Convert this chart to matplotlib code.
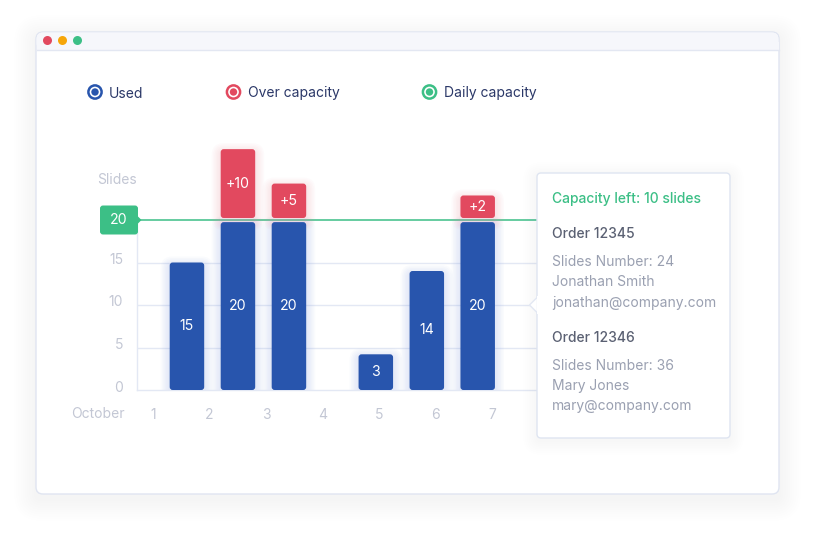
import numpy as np
import matplotlib
matplotlib.use("Agg")
import matplotlib.pyplot as plt
from matplotlib.patches import FancyBboxPatch, Circle, Polygon
import matplotlib.transforms as mtransforms

plt.rcParams['font.family'] = ['Inter', 'DejaVu Sans']

# ---------------- data ----------------
day_ticks = [1, 2, 3, 4, 5, 6, 7]
day_labels = ["1", "2", "3", "4", "5", "6", "7"]
bar_positions = [1.605, 2.506, 3.407, 4.942, 5.843, 6.742]
used = [15, 20, 20, 3, 14, 20]
over = [0, 10, 5, 0, 0, 2]
daily_capacity = 20
y_ticks = [0, 5, 10, 15]
y_tick_labels = ["0", "5", "10", "15"]
legend_labels = ["Used", "Over capacity", "Daily capacity"]
tooltip_title = "Capacity left: 10 slides"
order_titles = ["Order 12345", "Order 12346"]
order_lines = [["Slides Number: 24", "Jonathan Smith", "jonathan@company.com"],
               ["Slides Number: 36", "Mary Jones", "mary@company.com"]]

# ---------------- style ----------------
BLUE = "#2855ad"
RED = "#e2495f"
GREEN = "#3cbf86"
ORANGE = "#f6a609"
GRID = "#e3e8f4"
TICK = "#c3c7d4"
NAVY = "#2b3868"

W, H = 814, 534
fig = plt.figure(figsize=(W / 100, H / 100), dpi=100)
fig.patch.set_facecolor("white")

# background overlay (pixel coords)
bg = fig.add_axes([0, 0, 1, 1], zorder=0)
bg.set_xlim(0, W); bg.set_ylim(H, 0); bg.axis("off")

# window shadow (very soft)
for i in range(10):
    s = 2 + i * 2.2
    bg.add_patch(FancyBboxPatch((36 - s, 32 - s + 5), 743 + 2 * s, 462 + 2 * s,
                                boxstyle=f"round,pad=0,rounding_size={6 + s}",
                                fc="#9aa2ba", ec="none", alpha=0.006))
# window
bg.add_patch(FancyBboxPatch((36, 32), 743, 462, boxstyle="round,pad=0,rounding_size=7",
                            fc="white", ec="#e0e5f1", lw=1.0))
# title bar
bg.add_patch(FancyBboxPatch((36.5, 32.5), 742, 17, boxstyle="round,pad=0,rounding_size=6.5",
                            fc="#f6f7fb", ec="none"))
bg.add_patch(plt.Rectangle((36.5, 42), 742, 7.5, fc="#f6f7fb", ec="none"))
bg.plot([36.5, 778.5], [49.5, 49.5], color="#e3e7f2", lw=1.0)
for cx, c in zip([47.5, 62.5, 77.5], [RED, ORANGE, GREEN]):
    bg.add_patch(Circle((cx, 40.5), 4.5, fc=c, ec="none"))

# legend
for (lx, tx), lab, c in zip([(95, 109), (233.5, 248), (429.5, 444)], legend_labels, [BLUE, RED, GREEN]):
    bg.add_patch(Circle((lx, 92), 6.6, fc="white", ec=c, lw=1.8))
    bg.add_patch(Circle((lx, 92), 3.7, fc=c, ec="none"))
    bg.text(tx, 93.5, lab, color=NAVY, fontsize=10.0, va="center", ha="left")

# ---------------- chart ----------------
px_left, px_right, px_bottom, px_top = 137, 537, 390, 135
ax = fig.add_axes([px_left / W, 1 - px_bottom / H, (px_right - px_left) / W, (px_bottom - px_top) / H],
                  zorder=1)
ax.patch.set_alpha(0)
x_min = 1 - (152.7 - px_left) / 56.6
x_max = 1 + (px_right - 152.7) / 56.6
y_max = 30
ax.set_xlim(x_min, x_max)
ax.set_ylim(0, y_max)
for s in ["top", "right"]:
    ax.spines[s].set_visible(False)
ax.spines["left"].set_bounds(0, daily_capacity)
ax.spines["left"].set_color(GRID)
ax.spines["bottom"].set_color(GRID)
ax.spines["left"].set_linewidth(1.0)
ax.spines["bottom"].set_linewidth(1.0)
for yv in [5, 10, 15]:
    ax.axhline(yv, color=GRID, lw=1.0, zorder=0)
ax.axhline(daily_capacity, color=GREEN, lw=1.1, zorder=1)

ax.set_yticks(y_ticks)
ax.set_yticklabels(y_tick_labels)
ax.set_xticks(day_ticks)
ax.set_xticklabels(day_labels)
ax.tick_params(axis="y", length=0, pad=10, labelcolor=TICK, labelsize=10)
ax.tick_params(axis="x", length=0, pad=13, labelcolor=TICK, labelsize=10)
lift = mtransforms.ScaledTranslation(0, 4 / 100, fig.dpi_scale_trans)
for lbl in ax.get_yticklabels():
    lbl.set_transform(lbl.get_transform() + lift)

x_per_px = (x_max - x_min) / (px_right - px_left)
y_per_px = y_max / (px_bottom - px_top)
aspect = y_per_px / x_per_px
bar_w = 34.5 * x_per_px
min_bar_height = 4.2   # display floor for small values
gap = 2 * y_per_px


def rbar(x, y0, h, color, glow, z=3):
    for i in range(6):
        g = (i + 1) * 1.5
        ax.add_patch(FancyBboxPatch((x - bar_w / 2 - g * x_per_px, y0 - (g + 3) * y_per_px),
                                    bar_w + 2 * g * x_per_px, h + (2 * g) * y_per_px,
                                    boxstyle=f"round,pad=0,rounding_size={(3 + g) * x_per_px}",
                                    mutation_aspect=aspect, fc=glow, ec="none", alpha=0.035, zorder=z - 1))
    ax.add_patch(FancyBboxPatch((x - bar_w / 2, y0), bar_w, h,
                                boxstyle=f"round,pad=0,rounding_size={3 * x_per_px}",
                                mutation_aspect=aspect, fc=color, ec="none", zorder=z))


for x, u, o in zip(bar_positions, used, over):
    h = max(u, min_bar_height) - 0.25 * (u >= daily_capacity)
    rbar(x, 0, h, BLUE, "#7f9be0")
    ax.text(x, h / 2, str(u), color="white", fontsize=10.2, ha="center", va="center", zorder=5)
    if o > 0:
        oh = max(o * 0.81, 2.65)
        y0 = daily_capacity + gap
        rbar(x, y0, oh, RED, "#f08a9a")
        ax.text(x, y0 + oh / 2, f"+{o}", color="white", fontsize=10.2, ha="center", va="center", zorder=5)

# ---------------- overlay (badge, captions, tooltip) ----------------
fg = fig.add_axes([0, 0, 1, 1], zorder=3)
fg.set_xlim(0, W); fg.set_ylim(H, 0); fg.axis("off"); fg.patch.set_alpha(0)


def ypix(v):
    return px_bottom - v / y_per_px


# daily capacity badge
cap_y = ypix(daily_capacity)
fg.add_patch(FancyBboxPatch((100, cap_y - 14.5), 38, 29, boxstyle="round,pad=0,rounding_size=3",
                            fc=GREEN, ec="none"))
fg.add_patch(Polygon([(137.5, cap_y - 4), (141.5, cap_y), (137.5, cap_y + 4)], closed=True,
                     fc=GREEN, ec="none"))
fg.text(119, cap_y + 0.5, str(daily_capacity), color="white", fontsize=10.2, ha="center", va="center")

# axis captions
fg.text(117, 180.5, "Slides", color=TICK, fontsize=10, ha="center", va="center")
fg.text(98, 413.5, "October", color=TICK, fontsize=10, ha="center", va="center")

# tooltip
tx0, ty0, tw, th = 537, 173, 193, 265
for i in range(8):
    s = 1 + i * 1.8
    fg.add_patch(FancyBboxPatch((tx0 - s, ty0 - s + 3), tw + 2 * s, th + 2 * s,
                                boxstyle=f"round,pad=0,rounding_size={4 + s}",
                                fc="#8d97b5", ec="none", alpha=0.006))
fg.add_patch(FancyBboxPatch((tx0, ty0), tw, th, boxstyle="round,pad=0,rounding_size=4",
                            fc="white", ec="#dfe5f1", lw=1.0))
fg.add_patch(Polygon([(tx0 + 0.5, 297), (529.5, 305), (tx0 + 0.5, 313)], closed=True,
                     fc="white", ec="#e3e8f3", lw=1.0))
fg.add_patch(plt.Rectangle((tx0 + 0.2, 296), 2, 18, fc="white", ec="none"))

fg.text(552, 198.5, tooltip_title, color=GREEN, fontsize=10.0, fontweight="medium", va="center")
oy = [234.5, 338]
for y, title, lines in zip(oy, order_titles, order_lines):
    fg.text(552, y, title, color="#5b6173", fontsize=10.0, fontweight="medium", va="center")
    for k, ln in enumerate(lines):
        fg.text(552, y + 28 + 20 * k, ln, color="#9aa0b1", fontsize=10.0, va="center")

fig.savefig("out.png", dpi=100, facecolor="white")
